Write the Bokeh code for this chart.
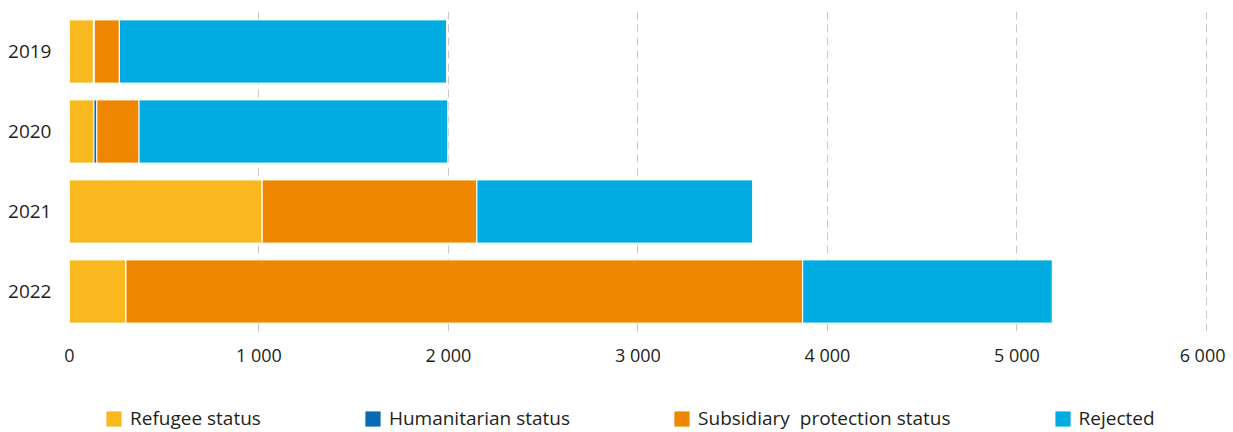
from bokeh.plotting import figure
from bokeh.layouts import column
from bokeh.models import ColumnDataSource, FactorRange, Range1d, FixedTicker
from bokeh.embed import file_html
from bokeh.resources import INLINE

years = ["2019", "2020", "2021", "2022"]
refugee = [126, 129, 1017, 298]
humanitarian = [5, 15, 0, 0]
subsidiary = [132, 223, 1133, 3571]
rejected = [1727, 1629, 1455, 1317]

series_keys = ["refugee", "humanitarian", "subsidiary", "rejected"]
series_labels = ["Refugee status", "Humanitarian status",
                 "Subsidiary  protection status", "Rejected"]
colors = ["#F9B91E", "#0A6AB4", "#F08700", "#00ACE2"]

x_ticks = [0, 1000, 2000, 3000, 4000, 5000, 6000]
x_tick_labels = ["0", "1 000", "2 000", "3 000", "4 000", "5 000", "6 000"]

source = ColumnDataSource(dict(year=years, refugee=refugee, humanitarian=humanitarian,
                               subsidiary=subsidiary, rejected=rejected))

FONT = "Open Sans"
TXT = "#231F20"
W = 1225

# ---- main chart ----
p = figure(y_range=FactorRange(factors=years[::-1], range_padding=0),
           x_range=Range1d(0, 6074),
           width=W, height=371,
           min_border_left=69, min_border_right=5, min_border_top=11, min_border_bottom=40,
           output_backend="svg", toolbar_location=None)

p.hbar_stack(series_keys, y="year", height=0.79, color=colors, line_color="white",
             line_width=1, source=source)

p.outline_line_color = None
p.background_fill_color = "white"
p.border_fill_color = "white"

p.ygrid.grid_line_color = None
p.xgrid.grid_line_color = "#C8C8C8"
p.xgrid.grid_line_dash = "8 5"
p.xgrid.grid_line_width = 1

p.xaxis.ticker = FixedTicker(ticks=x_ticks)
p.xaxis.major_label_overrides = {t: l for t, l in zip(x_ticks, x_tick_labels)}
for ax in (p.xaxis, p.yaxis):
    ax.axis_line_color = None
    ax.major_tick_line_color = None
    ax.minor_tick_line_color = None
    ax.major_tick_out = 0
    ax.major_label_text_font = FONT
    ax.major_label_text_color = TXT
p.xaxis.major_label_text_font_size = "18px"
p.xaxis.major_label_standoff = 11
p.yaxis.major_label_text_font_size = "19px"
p.yaxis.major_label_standoff = 18

# ---- legend strip (placeholder renderers carry only the legend swatches) ----
lp = figure(width=W, height=60, x_range=Range1d(0, 1), y_range=Range1d(0, 1),
            min_border_left=0, min_border_right=0, min_border_top=0, min_border_bottom=0,
            x_axis_location=None, y_axis_location=None,
            output_backend="svg", toolbar_location=None)
lp.grid.visible = False
lp.outline_line_color = None
nan = float("nan")
for label, c in zip(series_labels, colors):
    lp.hbar(y=[nan], right=[nan], height=1, fill_color=c, line_color=None,
            legend_label=label)

lg = lp.legend[0]
lg.orientation = "horizontal"
lg.location = (35, 0)
lg.padding = 0
lg.margin = 0
lg.spacing = 102
lg.glyph_width = 19
lg.glyph_height = 19
lg.label_height = 20
lg.label_standoff = 7
lg.label_text_font = FONT
lg.label_text_font_size = "19px"
lg.label_text_color = TXT
lg.border_line_color = None
lg.background_fill_alpha = 0

layout = column(p, lp, spacing=0)
open("out.html", "w").write(file_html(layout, INLINE))
